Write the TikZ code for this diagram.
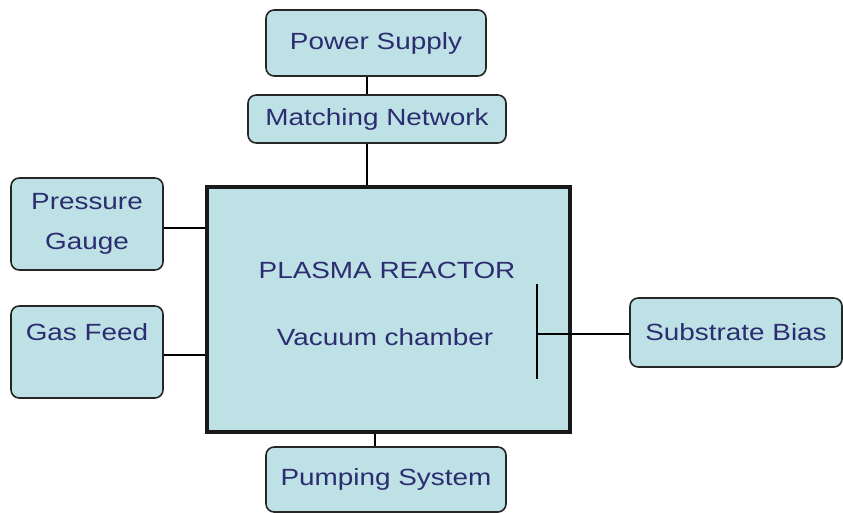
\documentclass[tikz,border=0pt]{standalone}
\usepackage{fontspec}
\setmainfont{Liberation Sans}[FakeStretch=1.19]
\definecolor{boxfill}{RGB}{190,225,229}
\definecolor{boxtext}{RGB}{44,44,112}
\begin{document}
\begin{tikzpicture}[x=0.03cm,y=-0.03cm,every node/.style={font=\fontsize{20}{34}\selectfont,text=boxtext,align=center},
 unit/.style={draw=black!85,line width=1.4pt,fill=boxfill,rounded corners=7pt,inner sep=0pt},
 wire/.style={line width=2.1pt,black}]
\useasboundingbox (0,0) rectangle (843,513);
\node[draw=black!90,line width=2.6pt,fill=boxfill,minimum width=10.89cm,minimum height=7.35cm] (reactor) at (388.5,309.5) {};
\node (title) at (387,270) {PLASMA REACTOR}; \node (sub) at (385,337) {Vacuum chamber};
\node[unit,minimum width=6.6cm,minimum height=1.98cm] (ps) at (376,43) {Power Supply}; \node[unit,minimum width=7.74cm,minimum height=1.44cm] (mn) at (377,119) {Matching Network};
\node[unit,minimum width=4.56cm,minimum height=2.76cm] (pg) at (87,224) {Pressure\\Gauge}; \node[unit,minimum width=4.56cm,minimum height=2.76cm] (gf) at (87,352) {Gas Feed\\[-10pt]\strut};
\node[unit,minimum width=6.36cm,minimum height=2.07cm] (sb) at (736,332.5) {Substrate Bias}; \node[unit,minimum width=7.2cm,minimum height=1.95cm] (pump) at (386,479.5) {Pumping System};
% electrode inside the chamber
\coordinate (elt) at (537,284); \coordinate (elb) at (537,379); \coordinate (elm) at (537,334);
\draw[wire] (ps.south -| 367,0) -- (mn.north -| 367,0); \draw[wire] (mn.south -| 367,0) -- (reactor.north -| 367,0);
\draw[wire] (pg.east |- 0,228) -- (reactor.west |- 0,228); \draw[wire] (gf.east |- 0,355) -- (reactor.west |- 0,355);
\draw[wire] (elt) -- (elb); \draw[wire] (sb.west |- elm) -- (elm); \draw[wire] (reactor.south -| 375,0) -- (pump.north -| 375,0);
\end{tikzpicture}
\end{document}
